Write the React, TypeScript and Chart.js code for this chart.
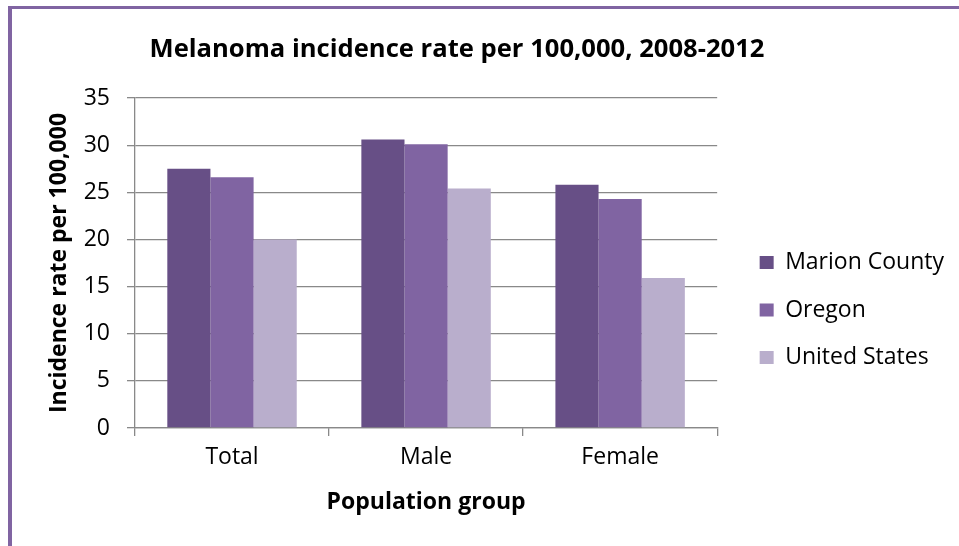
import React, { useEffect, useRef } from "react";
import { Chart, registerables } from "chart.js";

Chart.register(...registerables);

const categories = ["Total", "Male", "Female"];
const seriesNames = ["Marion County", "Oregon", "United States"];
const marionCounty = [27.5, 30.6, 25.8];
const oregon = [26.6, 30.1, 24.3];
const unitedStates = [20.0, 25.4, 15.9];
const yMin = 0;
const yMax = 35;
const yStep = 5;

const titleText = "Melanoma incidence rate per 100,000, 2008-2012";
const xTitle = "Population group";
const yTitle = "Incidence rate per 100,000";

const colors = ["#674F86", "#8064A2", "#B9AECC"];
const gridColor = "#898989";
const FONT = "'Open Sans', 'Noto Sans', sans-serif";

export default function App() {
  const ref = useRef<HTMLCanvasElement | null>(null);

  useEffect(() => {
    if (!ref.current) return;
    const chart = new Chart(ref.current, {
      type: "bar",
      data: {
        labels: categories,
        datasets: [
          { label: seriesNames[0], data: marionCounty, backgroundColor: colors[0] },
          { label: seriesNames[1], data: oregon, backgroundColor: colors[1] },
          { label: seriesNames[2], data: unitedStates, backgroundColor: colors[2] },
        ],
      },
      options: {
        animation: false,
        responsive: false,
        maintainAspectRatio: false,
        devicePixelRatio: 1,
        layout: { padding: { top: 0, left: 0, right: 0, bottom: 10 } },
        datasets: {
          bar: { categoryPercentage: 0.667, barPercentage: 1, borderWidth: 0 },
        },
        plugins: {
          title: {
            display: true,
            text: titleText,
            color: "#000",
            font: { family: FONT, size: 25.6, weight: "bold" },
            padding: { top: 34.5, bottom: 32.8 },
          },
          legend: {
            display: true,
            position: "right",
            align: "center",
            maxWidth: 260,
            labels: {
              boxWidth: 14,
              boxHeight: 13,
              padding: 24.5,
              color: "#000",
              font: { family: FONT, size: 23 },
            },
          },
          tooltip: { enabled: false },
        },
        scales: {
          x: {
            type: "category",
            offset: true,
            grid: {
              drawOnChartArea: false,
              drawTicks: true,
              tickLength: 8,
              color: gridColor,
              lineWidth: 1.3,
            },
            border: { display: true, color: gridColor, width: 1.3 },
            ticks: {
              color: "#000",
              padding: 8,
              font: { family: FONT, size: 23 },
              maxRotation: 0,
            },
            title: {
              display: true,
              text: xTitle,
              color: "#000",
              font: { family: FONT, size: 23, weight: "bold" },
              padding: { top: 6, bottom: 103.5 },
            },
            afterFit: (s: any) => {
              s.height = 192;
            },
          },
          y: {
            type: "linear",
            position: "left",
            min: yMin,
            max: yMax,
            grid: {
              drawTicks: true,
              tickLength: 8,
              color: gridColor,
              lineWidth: 1.3,
            },
            border: { display: true, color: gridColor, width: 1.3 },
            ticks: {
              stepSize: yStep,
              color: "#000",
              padding: 17,
              font: { family: FONT, size: 23 },
            },
            title: {
              display: true,
              text: yTitle,
              color: "#000",
              font: { family: FONT, size: 23, weight: "bold" },
              padding: { top: 86, bottom: 0 },
            },
            afterFit: (s: any) => {
              s.width = 175;
            },
          },
          yGap: {
            type: "linear",
            position: "right",
            display: true,
            grid: { display: false, drawTicks: false },
            border: { display: false },
            ticks: { display: false },
            afterFit: (s: any) => {
              s.width = 18;
            },
          },
        },
      },
    });
    return () => chart.destroy();
  }, []);

  return (
    <div
      style={{
        position: "fixed",
        left: 0,
        top: 0,
        width: 959,
        height: 546,
        overflow: "hidden",
        background: "#fff",
      }}
    >
      <canvas
        ref={ref}
        width={994}
        height={630}
        style={{ position: "absolute", left: -40, top: 0, width: 994, height: 630 }}
      />
      <div
        style={{
          position: "absolute",
          left: 8,
          top: 6,
          width: 2000,
          height: 2000,
          borderLeft: "4px solid #8064A2",
          borderTop: "3px solid #8064A2",
          pointerEvents: "none",
        }}
      />
    </div>
  );
}
